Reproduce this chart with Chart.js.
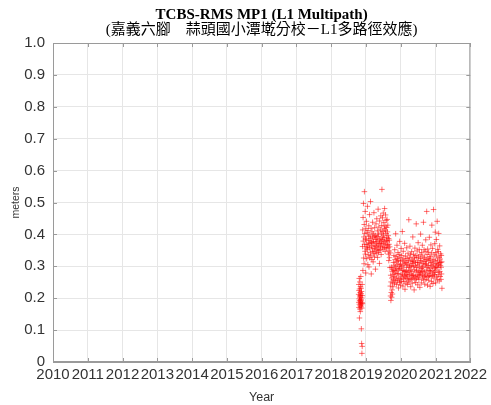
<!DOCTYPE html>
<html><head><meta charset="utf-8">
<script src="https://cdn.jsdelivr.net/npm/chart.js@4/dist/chart.umd.min.js"></script>
<style>html,body{margin:0;padding:0;background:#fff;}canvas{display:block;}</style>
</head><body>
<canvas id="c" width="491" height="405"></canvas>
<script>
const titleText = 'TCBS-RMS MP1 (L1 Multipath)';
const subtitleText = '(嘉義六腳　蒜頭國小潭墘分校－L1多路徑效應)';
const xTitle = 'Year';
const yTitle = 'meters';
const xTicks = [2010, 2011, 2012, 2013, 2014, 2015, 2016, 2017, 2018, 2019, 2020, 2021, 2022];
const yTicks = [0, 0.1, 0.2, 0.3, 0.4, 0.5, 0.6, 0.7, 0.8, 0.9, 1.0];

// Segment A: late 2018, daily samples
const segAStart = 2018.79;
const segAStepDays = 1;
const segAValues = [0.212,0.187,0.243,0.171,0.224,0.198,0.262,0.181,0.138,0.229,
  0.193,0.207,0.166,0.251,0.203,0.176,0.218,0.158,0.189,0.236,
  0.209,0.184,0.268,0.196,0.173,0.231,0.192,0.214,0.104,0.179,
  0.221,0.058,0.201,0.169,0.027,0.186,0.243,0.049,0.208,0.183];

// Segment B: 2018.90 - 2019.70, every 2 days
const segBStart = 2018.90;
const segBStepDays = 2;
const segBValues = [0.362,0.414,0.287,0.453,0.379,0.497,0.326,0.392,0.308,0.431,
  0.534,0.368,0.403,0.347,0.472,0.338,0.386,0.279,0.418,0.357,
  0.383,0.441,0.324,0.369,0.405,0.352,0.488,0.361,0.305,0.412,
  0.336,0.394,0.373,0.427,0.298,0.381,0.359,0.462,0.327,0.398,
  0.371,0.344,0.503,0.387,0.333,0.419,0.276,0.364,0.376,0.321,
  0.408,0.355,0.391,0.438,0.346,0.374,0.314,0.402,0.378,0.339,
  0.468,0.357,0.393,0.329,0.421,0.366,0.348,0.397,0.291,0.384,
  0.362,0.433,0.341,0.389,0.372,0.449,0.353,0.377,0.411,0.328,
  0.394,0.358,0.479,0.343,0.401,0.367,0.423,0.349,0.382,0.309,
  0.442,0.371,0.386,0.352,0.414,0.363,0.458,0.379,0.337,0.404,
  0.373,0.428,0.541,0.392,0.361,0.452,0.384,0.409,0.354,0.467,
  0.398,0.372,0.437,0.389,0.418,0.359,0.481,0.377,0.426,0.347,
  0.413,0.461,0.368,0.403,0.444,0.381,0.357,0.422,0.391,0.447,
  0.379,0.408,0.366,0.429,0.358,0.396,0.338,0.387,0.318,0.369,
  0.348,0.382,0.327,0.361,0.296,0.342];

// Segment C: 2019.70 - 2021.19, every 2 days
const segCStart = 2019.70;
const segCStepDays = 2;
const segCValues = [0.238,0.207,0.272,0.193,0.251,0.218,0.297,0.203,0.263,0.226,
  0.284,0.213,0.248,0.291,0.236,0.274,0.312,0.258,0.287,0.334,
  0.268,0.303,0.247,0.352,0.279,0.321,0.256,0.298,0.402,0.286,
  0.331,0.264,0.314,0.243,0.292,0.366,0.277,0.324,0.254,0.307,
  0.343,0.276,0.318,0.232,0.289,0.262,0.337,0.301,0.249,0.378,
  0.293,0.327,0.258,0.306,0.241,0.316,0.273,0.356,0.253,0.298,
  0.334,0.267,0.288,0.409,0.276,0.319,0.238,0.302,0.347,0.261,
  0.287,0.323,0.252,0.308,0.271,0.372,0.284,0.228,0.313,0.266,
  0.332,0.283,0.247,0.311,0.274,0.296,0.358,0.262,0.324,0.281,
  0.243,0.306,0.269,0.341,0.257,0.318,0.286,0.446,0.251,0.302,
  0.327,0.273,0.297,0.363,0.259,0.288,0.336,0.236,0.314,0.276,
  0.301,0.262,0.346,0.284,0.323,0.247,0.309,0.271,0.392,0.316,
  0.264,0.299,0.338,0.273,0.317,0.226,0.289,0.328,0.258,0.357,
  0.303,0.268,0.312,0.249,0.334,0.282,0.433,0.296,0.261,0.326,
  0.287,0.348,0.271,0.313,0.242,0.304,0.374,0.266,0.329,0.283,
  0.259,0.311,0.353,0.274,0.298,0.234,0.336,0.281,0.318,0.401,
  0.276,0.324,0.293,0.248,0.343,0.286,0.309,0.263,0.366,0.297,
  0.271,0.332,0.284,0.314,0.438,0.257,0.301,0.352,0.268,0.327,
  0.282,0.244,0.316,0.347,0.273,0.306,0.383,0.259,0.321,0.288,
  0.308,0.472,0.266,0.337,0.296,0.241,0.354,0.278,0.323,0.269,
  0.302,0.344,0.256,0.318,0.287,0.391,0.272,0.326,0.294,0.237,
  0.331,0.283,0.312,0.367,0.268,0.303,0.252,0.342,0.429,0.286,
  0.314,0.271,0.356,0.298,0.246,0.322,0.279,0.478,0.307,0.263,
  0.336,0.294,0.274,0.371,0.282,0.319,0.407,0.297,0.248,0.343,
  0.288,0.309,0.384,0.267,0.332,0.301,0.441,0.258,0.317,0.353,
  0.296,0.273,0.346,0.306,0.403,0.281,0.328,0.254,0.311,0.364,
  0.284,0.323,0.268,0.302,0.339,0.312,0.259,0.297,0.334,0.276,
  0.314,0.231];

function toPoints(start, stepDays, values) {
  return values.map((v, i) => ({ x: start + i * stepDays / 365.25, y: v }));
}
const points = [].concat(
  toPoints(segAStart, segAStepDays, segAValues),
  toPoints(segBStart, segBStepDays, segBValues),
  toPoints(segCStart, segCStepDays, segCValues)
);

const frameColor = '#9a9a9a';
const boxPlugin = {
  id: 'boxPlugin',
  afterDraw(chart) {
    const { ctx, chartArea: a, scales } = chart;
    ctx.save();
    ctx.strokeStyle = frameColor;
    ctx.lineWidth = 1;
    ctx.strokeRect(a.left + 0.5, a.top + 0.5, a.right - a.left - 1, a.bottom - a.top - 1);
    const L = 4;
    ctx.beginPath();
    xTicks.forEach(v => {
      const px = Math.round(scales.x.getPixelForValue(v)) + 0.5;
      ctx.moveTo(px, a.bottom); ctx.lineTo(px, a.bottom - L);
      ctx.moveTo(px, a.top); ctx.lineTo(px, a.top + L);
    });
    yTicks.forEach(v => {
      const py = Math.round(scales.y.getPixelForValue(v)) + 0.5;
      ctx.moveTo(a.left, py); ctx.lineTo(a.left + L, py);
      ctx.moveTo(a.right, py); ctx.lineTo(a.right - L, py);
    });
    ctx.stroke();
    ctx.restore();
  }
};

new Chart(document.getElementById('c'), {
  type: 'scatter',
  data: {
    datasets: [{
      data: points,
      pointStyle: 'cross',
      pointRadius: 2.8,
      pointBorderWidth: 1,
      borderColor: 'rgba(255,0,0,0.55)',
      backgroundColor: 'rgba(255,0,0,0.55)',
      showLine: false
    }]
  },
  options: {
    responsive: false,
    animation: false,
    events: [],
    layout: { padding: { left: 0, right: 19, top: 0, bottom: 0 } },
    plugins: {
      legend: { display: false },
      tooltip: { enabled: false },
      title: {
        display: true, text: titleText, fullSize: false, color: '#000',
        font: { family: '"Liberation Serif", "Times New Roman", serif', size: 15, weight: 'bold', lineHeight: 1 },
        padding: { top: 8, bottom: 0 }
      },
      subtitle: {
        display: true, text: subtitleText, fullSize: false, color: '#000',
        font: { family: '"Liberation Serif", "Noto Sans CJK TC", serif', size: 15, weight: 'normal', lineHeight: 14/15 },
        padding: { top: 0, bottom: 6 }
      }
    },
    scales: {
      x: {
        type: 'linear', min: 2010, max: 2022,
        afterFit(s) { s.height = 43; },
        afterBuildTicks(s) { s.ticks = xTicks.map(v => ({ value: v })); },
        grid: { color: '#e6e6e6', drawTicks: false },
        border: { display: true, color: frameColor },
        ticks: {
          autoSkip: false, maxRotation: 0, minRotation: 0, padding: 4, color: '#333',
          font: { family: '"Liberation Sans", Arial, sans-serif', size: 15 },
          callback: v => String(v)
        },
        title: {
          display: true, text: xTitle, color: '#333',
          font: { family: '"Liberation Sans", Arial, sans-serif', size: 12.5 },
          padding: { top: 0, bottom: 0 }
        }
      },
      y: {
        type: 'linear', min: 0, max: 1,
        afterFit(s) { s.width = 53; },
        afterBuildTicks(s) { s.ticks = yTicks.map(v => ({ value: v })); },
        grid: { color: '#e6e6e6', drawTicks: false },
        border: { display: true, color: frameColor },
        ticks: {
          padding: 8, color: '#333',
          font: { family: '"Liberation Sans", Arial, sans-serif', size: 15 },
          callback: v => (v === 0 ? '0' : (Math.round(v * 10) / 10).toFixed(1))
        },
        title: {
          display: true, text: yTitle, color: '#333',
          font: { family: '"Liberation Sans", Arial, sans-serif', size: 10.5 },
          padding: { top: 10, bottom: 0 }
        }
      }
    }
  },
  plugins: [boxPlugin]
});
</script>
</body></html>
